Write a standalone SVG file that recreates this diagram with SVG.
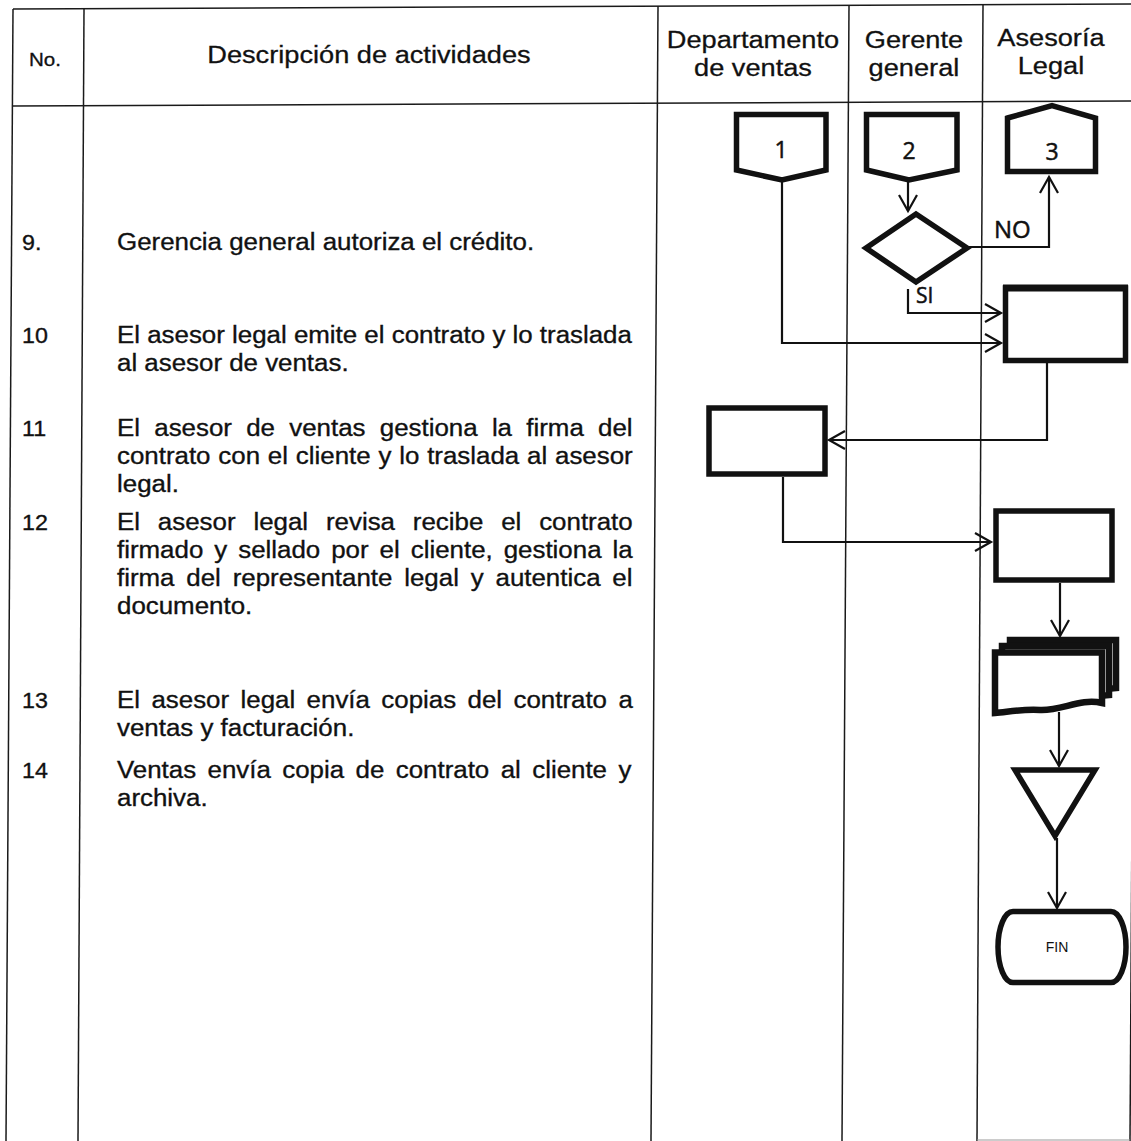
<svg xmlns="http://www.w3.org/2000/svg" width="1131" height="1141" viewBox="0 0 1131 1141">
<style>
.tl{stroke:#1a1a1a;stroke-width:1.5;fill:none}
.sh{fill:#fff;stroke:#111;stroke-width:5.5;stroke-linejoin:miter}
.dc{fill:#fff;stroke:#111;stroke-width:6.5;stroke-linejoin:miter}
.cn{fill:none;stroke:#111;stroke-width:2.2;marker-end:url(#arr)}
.t{font-family:"Liberation Sans",Arial,sans-serif;font-size:24.5px;fill:#111;stroke:#111;stroke-width:0.35}
.h{font-family:"Liberation Sans",Arial,sans-serif;font-size:24.5px;fill:#111;stroke:#111;stroke-width:0.3;text-anchor:middle}
.n{font-family:"Liberation Sans",Arial,sans-serif;font-size:22px;fill:#111;stroke:#111;stroke-width:0.35}
.k{font-family:"Open Sans","Liberation Sans",sans-serif;fill:#111;stroke:#111;stroke-width:0.5}
</style>
<defs>
<marker id="arr" viewBox="-20 -12 24 24" refX="0" refY="0" markerWidth="24" markerHeight="24" markerUnits="userSpaceOnUse" orient="auto">
<path d="M-16,-9 L0,0 L-16,9" fill="none" stroke="#111" stroke-width="2.2"/>
</marker>
</defs>
<rect width="1131" height="1141" fill="#fff"/>
<g id="table">
<line class="tl" x1="13" y1="9" x2="1137" y2="4"/>
<line class="tl" x1="13" y1="106" x2="1137" y2="101"/>
<line class="tl" x1="13" y1="9" x2="6" y2="1141"/>
<line class="tl" x1="84" y1="9" x2="78" y2="1141"/>
<line class="tl" x1="658" y1="6" x2="651" y2="1141"/>
<line class="tl" x1="849" y1="5" x2="842" y2="1141"/>
<line class="tl" x1="983" y1="5" x2="977" y2="1141"/>
<line class="tl" x1="1137" y1="4" x2="1130" y2="1141"/>
<line x1="977" y1="1140" x2="1130" y2="1140" stroke="#999" stroke-width="1.2"/>
</g>
<g id="header" transform="scale(1.11,1)">
<text class="h" x="40.5" y="66" style="font-size:18.5px">No.</text>
<text class="h" x="332.4" y="63">Descripción de actividades</text>
<text class="h" x="678.4" y="48">Departamento</text>
<text class="h" x="678.4" y="76">de ventas</text>
<text class="h" x="823.4" y="48">Gerente</text>
<text class="h" x="823.4" y="76">general</text>
<text class="h" x="946.8" y="46">Asesoría</text>
<text class="h" x="946.8" y="74">Legal</text>
</g>
<g id="rows" transform="scale(1.057,1)">
<text class="n" x="20.8" y="250">9.</text>
<text class="n" x="20.8" y="343">10</text>
<text class="n" x="20.8" y="436">11</text>
<text class="n" x="20.8" y="530">12</text>
<text class="n" x="20.8" y="708">13</text>
<text class="n" x="20.8" y="778">14</text>
<text class="t" x="110.7" y="250">Gerencia general autoriza el crédito.</text>
<text class="t" x="110.7" y="343">El asesor legal emite el contrato y lo traslada</text>
<text class="t" x="110.7" y="371">al asesor de ventas.</text>
<text class="t" x="110.7" y="436" word-spacing="6.7">El asesor de ventas gestiona la firma del</text>
<text class="t" x="110.7" y="464" word-spacing="0.6">contrato con el cliente y lo traslada al asesor</text>
<text class="t" x="110.7" y="492">legal.</text>
<text class="t" x="110.7" y="530" word-spacing="10.1">El asesor legal revisa recibe el contrato</text>
<text class="t" x="110.7" y="558" word-spacing="3.6">firmado y sellado por el cliente, gestiona la</text>
<text class="t" x="110.7" y="586" word-spacing="4.4">firma del representante legal y autentica el</text>
<text class="t" x="110.7" y="614">documento.</text>
<text class="t" x="110.7" y="708" word-spacing="4.0">El asesor legal envía copias del contrato a</text>
<text class="t" x="110.7" y="736">ventas y facturación.</text>
<text class="t" x="110.7" y="778" word-spacing="4.0">Ventas envía copia de contrato al cliente y</text>
<text class="t" x="110.7" y="806">archiva.</text>
</g>
<g id="connectors">
<path class="cn" d="M908,182 V211"/>
<path class="cn" d="M968,247 H1049 V177"/>
<path class="cn" d="M908,289 V313 H1001"/>
<path class="cn" d="M782,182 V343 H1001"/>
<path class="cn" d="M1047,363 V440 H829"/>
<path class="cn" d="M783,477 V542 H991"/>
<path class="cn" d="M1060,583 V636"/>
<path class="cn" d="M1059,712 V766"/>
<path class="cn" d="M1057,838 V908"/>
<text class="k" x="994" y="238" style="font-size:24px">NO</text>
<text class="k" x="916" y="303" style="font-size:21px">SI</text>
</g>
<g id="conn1">
<path class="sh" d="M736.5,114.5 H826 V170 L782,180 L736.5,170 Z"/>
<text class="k" x="781" y="158" text-anchor="middle" style="font-size:23px">1</text>
</g>
<g id="conn2">
<path class="sh" d="M866.5,114.5 H957 V170 L909,180 L866.5,170 Z"/>
<text class="k" x="909" y="159" text-anchor="middle" style="font-size:23px">2</text>
</g>
<g id="conn3">
<path class="sh" d="M1007.5,118 L1052,105.5 L1095.5,118 V171.5 H1007.5 Z"/>
<text class="k" x="1052" y="160" text-anchor="middle" style="font-size:23px">3</text>
</g>
<g id="decision">
<path class="sh" d="M866,248 L916,214 L967,248 L916,282 Z"/>
</g>
<g id="procA">
<rect class="sh" x="1005.5" y="288" width="120" height="72.5"/>
<line x1="1003" y1="288" x2="1128" y2="288" stroke="#111" stroke-width="7"/>
</g>
<g id="procB">
<rect class="sh" x="709" y="408" width="116" height="66"/>
</g>
<g id="procC">
<rect class="sh" x="996" y="511" width="116" height="69"/>
</g>
<g id="docs">
<path class="dc" d="M1010,640 H1116 V688 L1010,698 Z"/>
<path class="dc" d="M1002,646 H1109 V695 L1002,705 Z"/>
<path class="dc" d="M995,652.5 H1102 V703 C1080,698 1062,711 1040,710 C1020,709 1008,712 995,713 Z"/>
</g>
<g id="archive">
<path class="sh" d="M1015,770 H1095 L1055,836 Z"/>
</g>
<g id="fin">
<path class="sh" d="M1013,911.5 H1111 A15,35.5 0 0 1 1111,982.5 H1013 A15,35.5 0 0 1 1013,911.5 Z"/>
<text x="1057" y="952" text-anchor="middle" style="font-family:'Liberation Sans',Arial,sans-serif;font-size:14px;fill:#111">FIN</text>
</g>
</svg>
